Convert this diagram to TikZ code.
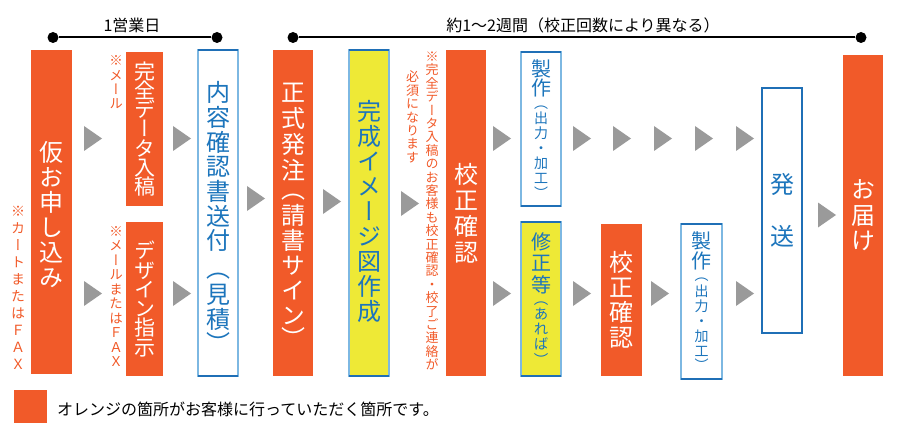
\documentclass[tikz,border=0pt]{standalone}
\usepackage{fontspec}
\setmainfont{Noto Sans CJK JP}
\newfontfamily\jv[RawFeature=+vert]{Noto Sans CJK JP}
\definecolor{org}{HTML}{F15A29}
\definecolor{yel}{HTML}{EEE936}
\definecolor{tblue}{HTML}{1C75BC}
\definecolor{lblue}{HTML}{7DB8E2}
\definecolor{dblue}{HTML}{1F6FB6}
\definecolor{agray}{HTML}{9A9A9A}
\makeatletter
\newcommand\vt[2][1.1em]{\vbox{\baselineskip=#1\relax\lineskiplimit=-\maxdimen\lineskip=0pt\@tfor\vt@c:=#2\do{\hbox to 30pt{\hss\vt@c\hss}}}}
\makeatother
\newcommand\vstack[1]{\vbox{\offinterlineskip #1}}
\newcommand\tri[2]{\fill[agray] (#1,#2-12.5) -- (#1,#2+12.5) -- (#1+18,#2) -- cycle;}
\tikzset{
  ob/.style={fill=org, inner sep=0pt, outer sep=0pt, text=white},
  wb/.style={fill=white, draw=lblue, line width=1.6pt, inner sep=0pt, outer sep=0pt, text=tblue},
  yb/.style={fill=yel, draw=lblue, line width=1.6pt, inner sep=0pt, outer sep=0pt, text=tblue},
  big/.style={font=\jv\fontsize{24}{24}\selectfont},
  mid/.style={font=\jv\fontsize{21}{21}\selectfont},
  note/.style={font=\jv\fontsize{13}{13}\selectfont, text=org, inner sep=0pt},
  dot/.style={circle, fill=black, inner sep=0pt, minimum size=11pt},
  lbl/.style={font=\fontsize{16}{16}\selectfont, text=black, inner sep=0pt},
}
\begin{document}
\begin{tikzpicture}[x=1pt,y=-1pt]
\useasboundingbox (0,0) rectangle (900,433);
% timeline
\node[dot] (d1) at (53,37.5) {};
\node[dot] (d2) at (217,37.5) {};
\draw[line width=2pt] (d1) -- (d2);
\node[lbl] (l1) at (132,25) {1営業日};
\node[dot] (d3) at (293,37.5) {};
\node[dot] (d4) at (861,37.5) {};
\draw[line width=2pt] (d3) -- (d4);
\node[lbl] (l2) at (583,25) {約1〜2週間（校正回数により異なる）};
% boxes
\node[ob, big, minimum width=41pt, minimum height=324pt] (kari) at (51.5,212) {\vstack{\vskip6pt\vt[25pt]{仮お申し込み}}};
\node[ob, mid, minimum width=37pt, minimum height=154pt] (kanzen) at (144.5,129) {\vt[19.3pt]{完全データ入稿}};
\node[ob, mid, minimum width=37pt, minimum height=154pt] (design) at (144.5,299) {\vt[19.3pt]{デザイン指示}};
\node[wb, big, minimum width=40pt, minimum height=326pt] (naiyou) at (218,213)
  {\vstack{\vskip8pt\vt[24.7pt]{内容確認書送付}\vskip21pt\vt{（}\vskip5pt\vt[25pt]{見積}\vskip2pt\vt{）}}};
\node[ob, big, minimum width=40pt, minimum height=326pt] (seishiki) at (293,213)
  {\vstack{\vskip4pt\vt[26pt]{正式発注}\vskip13pt\vt{（}\vskip4pt\vt[25pt]{請書サイン}\vskip3pt\vt{）}}};
\node[yb, big, minimum width=40pt, minimum height=326pt] (kansei) at (369,213) {\vstack{\vt[25pt]{完成イメージ図作成}\vskip4pt}};
\node[ob, big, minimum width=40pt, minimum height=326pt] (kousei1) at (466,213) {\vt[26pt]{校正確認}};
\node[wb, minimum width=40pt, minimum height=154pt] (seisaku1) at (541,129)
  {\vstack{\jv\fontsize{20}{20}\selectfont\vt[19.5pt]{製作}\vskip8pt\fontsize{14}{14}\selectfont\vt{（}\vskip3pt\vt[15pt]{出力・加工}\vskip3pt\vt{）}}};
\node[yb, minimum width=40pt, minimum height=154pt] (shusei) at (541,299)
  {\vstack{\jv\fontsize{20}{20}\selectfont\vt[21.5pt]{修正等}\vskip8pt\fontsize{14.5}{14.5}\selectfont\vt{（}\vskip3pt\vt[15pt]{あれば}\vskip3pt\vt{）}}};
\node[ob, big, minimum width=41pt, minimum height=152pt] (kousei2) at (621.5,300) {\vt[25pt]{校正確認}};
\node[wb, minimum width=41pt, minimum height=155pt] (seisaku2) at (701.5,301.5)
  {\vstack{\jv\fontsize{20}{20}\selectfont\vt[19.5pt]{製作}\vskip8pt\fontsize{14}{14}\selectfont\vt{（}\vskip3pt\vt[15pt]{出力・加工}\vskip3pt\vt{）}}};
\node[wb, big, draw=dblue, minimum width=40pt, minimum height=245pt] (hassou) at (782,210.5) {\vt[52pt]{発送}};
\node[ob, big, minimum width=40pt, minimum height=321pt] (otodoke) at (863,215.5) {\vt[25.5pt]{お届け}};
\foreach \n in {naiyou,kansei,seisaku1,shusei,seisaku2,hassou}
  {\draw[dblue,line width=1.2pt] (\n.north west) -- (\n.north east) (\n.south west) -- (\n.south east);}
% notes
\node[note, font=\jv\fontsize{14}{14}\selectfont] (n1) at (18,287.5) {\vt[17pt]{※カートまたはＦＡＸ}};
\node[note, font=\jv\fontsize{13.5}{13.5}\selectfont] (n2) at (116,82.5) {\vt[14.3pt]{※メール}};
\node[note, font=\jv\fontsize{13.5}{13.5}\selectfont] (n3) at (116,296.5) {\vt[14.5pt]{※メールまたはＦＡＸ}};
\node[note] (n4a) at (432,211) {\vt[13.4pt]{※完全データ入稿のお客様も校正確認・校了ご連絡が}};
\node[note] (n4b) at (412.5,117) {\vt[13.4pt]{必須になります}};
% arrows
\foreach \x in {84,173,493,573,613,654,695,736} {\tri{\x}{138.5}}
\foreach \x in {84,173,493,573,651,736} {\tri{\x}{293.5}}
\tri{247}{198.5}
\tri{323}{201.5}
\tri{401}{203.5}
\tri{818}{215}
% legend
\node[fill=org, minimum size=33pt, inner sep=0pt] (leg) at (30.5,406.5) {};
\node[lbl, anchor=west] (legt) at (57,409) {オレンジの箇所がお客様に行っていただく箇所です。};
\end{tikzpicture}
\end{document}
